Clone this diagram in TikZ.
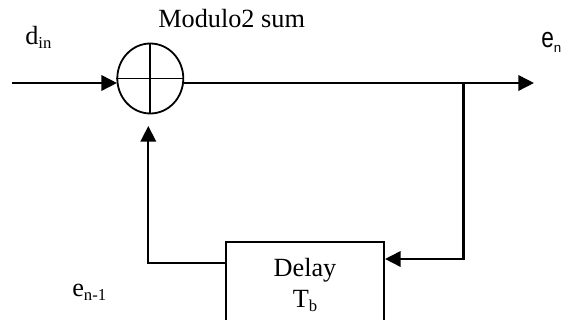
\documentclass[tikz,border=0pt]{standalone}
\usepackage{fontspec}
\setmainfont{Liberation Serif}
\newfontfamily\arialfont{Liberation Sans}
\usetikzlibrary{arrows.meta,shapes.geometric}
\newcommand{\lowsub}[1]{\raisebox{-0.15em}{\fontsize{12.5}{14}\selectfont #1}}
\newcommand{\lowsubsf}[1]{\raisebox{-0.2em}{\fontsize{10}{12}\selectfont #1}}
\tikzset{
  wire/.style={line width=1.75pt},
  thinwire/.style={line width=1.35pt},
  flow/.style={wire,-{Triangle[length=11.7pt,width=11.5pt]}},
  label/.style={inner sep=0pt,anchor=base west,font=\fontsize{19.7}{23}\selectfont},
}
\begin{document}
\begin{tikzpicture}[x=0.75pt,y=-0.75pt]
  \useasboundingbox (0,0) rectangle (562,320);
  \fill[white] (0,0) rectangle (562,320);
  % sumador
  \node[draw,thinwire,ellipse,minimum width=49.5pt,minimum height=52.5pt,inner sep=0pt] (sum) at (150.3,78.5) {};
  \draw[thinwire] (sum.north) -- (sum.south);
  \draw[thinwire] (sum.west) -- (sum.east);
  % retardo
  \node[draw,thinwire,minimum width=118.5pt,minimum height=75pt,inner sep=0pt] (delay) at (305,292) {};
  \node[label,anchor=base] (delaytxt) at (305,277) {Delay};
  \node[label,anchor=base] (tb) at (305,308) {T\lowsub{b}};
  % etiquetas
  \node[label] (title) at (158,28) {Modulo2 sum};
  \node[label] (din) at (25,45) {d\lowsub{in}};
  \node[label,font=\arialfont\fontsize{17}{20}\selectfont] (en) at (541,48) {\scalebox{1}[1.25]{e}\lowsubsf{n}};
  \node[label] (enm) at (72,296.5) {e\lowsub{n-1}};
  % conexiones
  \coordinate (start) at (12,83);
  \coordinate (suml) at (117,83);
  \coordinate (sumr) at (183,83);
  \coordinate (stop) at (534,83);
  \coordinate (branch) at (463.5,83);
  \coordinate (inback) at (385,259);
  \coordinate (corner) at (463.5,259);
  \coordinate (outback) at (226,263);
  \coordinate (bend) at (148.3,263);
  \coordinate (up) at (148.3,126);
  \draw[flow] (start) -- (suml);
  \draw[flow] (sumr) -- (stop);
  \draw[flow] (branch) -- (corner) -- (inback);
  \draw[flow] (outback) -- (bend) -- (up);
\end{tikzpicture}
\end{document}
